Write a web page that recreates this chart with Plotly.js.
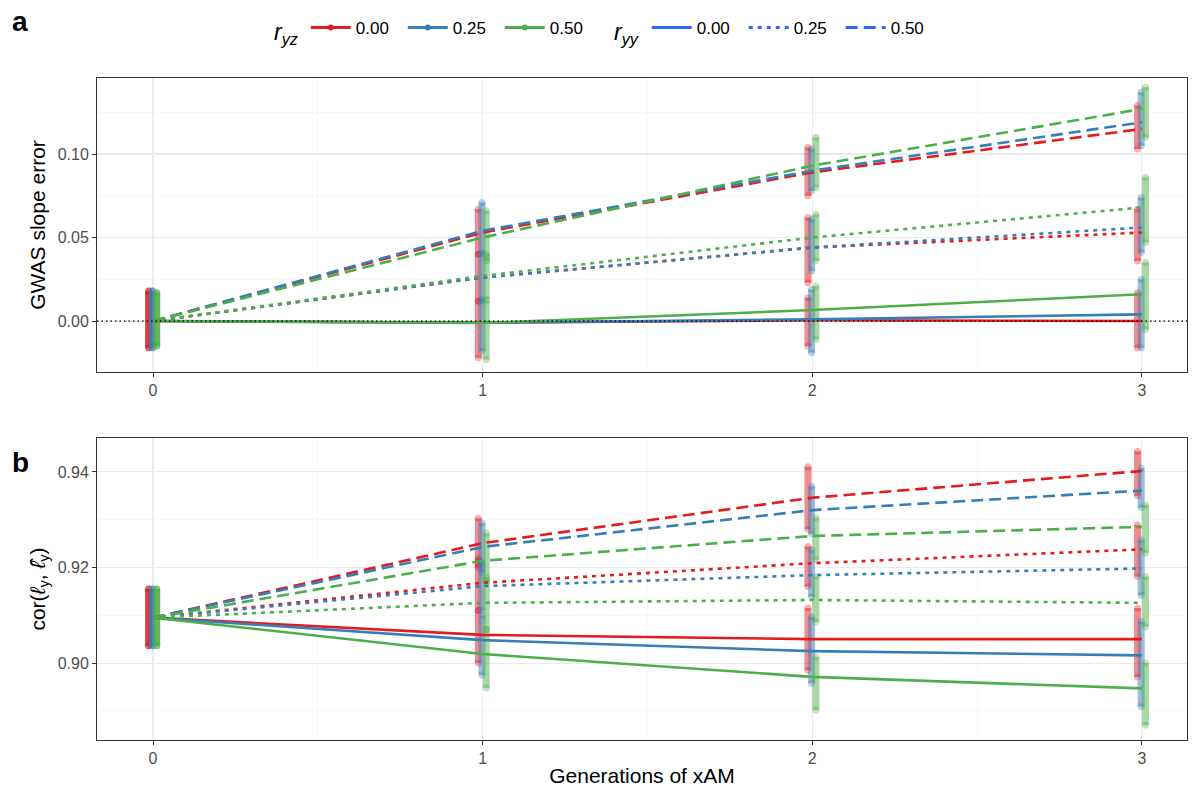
<!DOCTYPE html>
<html>
<head>
<meta charset="utf-8">
<script src="https://cdn.plot.ly/plotly-3.0.1.min.js"></script>
<style>html,body{margin:0;padding:0;background:#fff}#chart{width:1198px;height:787px}</style>
</head>
<body>
<div id="chart"></div>
<script>
// ---------------- DATA ----------------
const generations = [0, 1, 2, 3];
const ryzLevels = ['0.00', '0.25', '0.50'];
const ryyLevels = ['0.00', '0.25', '0.50'];

// Panel a: mean GWAS slope error per generation
const slope_ryz000_ryy000 = [0, -0.001, 0.0005, 0.000];
const slope_ryz025_ryy000 = [0, -0.001, 0.001, 0.004];
const slope_ryz050_ryy000 = [0, -0.0012, 0.0066, 0.016];
const slope_ryz000_ryy025 = [0, 0.026, 0.044, 0.053];
const slope_ryz025_ryy025 = [0, 0.026, 0.044, 0.056];
const slope_ryz050_ryy025 = [0, 0.027, 0.050, 0.068];
const slope_ryz000_ryy050 = [0, 0.053, 0.089, 0.115];
const slope_ryz025_ryy050 = [0, 0.054, 0.090, 0.119];
const slope_ryz050_ryy050 = [0, 0.050, 0.093, 0.127];

// Panel a: replicate spread [low, high] per generation
const slopeRange_ryz000_ryy000 = [[-0.016, 0.018], [-0.022, 0.012], [-0.015, 0.014], [-0.016, 0.017]];
const slopeRange_ryz025_ryy000 = [[-0.016, 0.018], [-0.018, 0.013], [-0.019, 0.019], [-0.016, 0.025]];
const slopeRange_ryz050_ryy000 = [[-0.015, 0.017], [-0.023, 0.012], [-0.011, 0.021], [-0.005, 0.035]];
const slopeRange_ryz000_ryy025 = [[-0.016, 0.018], [0.012, 0.040], [0.023, 0.062], [0.036, 0.067]];
const slopeRange_ryz025_ryy025 = [[-0.016, 0.018], [0.012, 0.041], [0.030, 0.061], [0.041, 0.074]];
const slopeRange_ryz050_ryy025 = [[-0.015, 0.017], [0.013, 0.040], [0.036, 0.064], [0.047, 0.086]];
const slopeRange_ryz000_ryy050 = [[-0.016, 0.018], [0.040, 0.067], [0.075, 0.104], [0.103, 0.129]];
const slopeRange_ryz025_ryy050 = [[-0.016, 0.018], [0.040, 0.071], [0.078, 0.103], [0.105, 0.137]];
const slopeRange_ryz050_ryy050 = [[-0.015, 0.017], [0.036, 0.066], [0.080, 0.110], [0.110, 0.140]];

// Panel b: mean correlation per generation
const cor_ryz000_ryy000 = [0.9095, 0.9059, 0.9050, 0.9050];
const cor_ryz025_ryy000 = [0.9095, 0.9048, 0.9025, 0.9016];
const cor_ryz050_ryy000 = [0.9095, 0.9019, 0.8971, 0.8947];
const cor_ryz000_ryy025 = [0.9095, 0.9168, 0.9209, 0.9238];
const cor_ryz025_ryy025 = [0.9095, 0.9161, 0.9184, 0.9198];
const cor_ryz050_ryy025 = [0.9095, 0.9126, 0.9132, 0.9126];
const cor_ryz000_ryy050 = [0.9095, 0.9251, 0.9346, 0.9402];
const cor_ryz025_ryy050 = [0.9095, 0.9243, 0.9320, 0.9361];
const cor_ryz050_ryy050 = [0.9095, 0.9214, 0.9266, 0.9285];

// Panel b: replicate spread [low, high] per generation
const corRange_ryz000_ryy000 = [[0.9036, 0.9155], [0.9000, 0.9110], [0.8985, 0.9115], [0.8971, 0.9115]];
const corRange_ryz025_ryy000 = [[0.9036, 0.9155], [0.8975, 0.9100], [0.8958, 0.9097], [0.8909, 0.9087]];
const corRange_ryz050_ryy000 = [[0.9036, 0.9155], [0.8948, 0.9070], [0.8902, 0.9013], [0.8870, 0.9000]];
const corRange_ryz000_ryy025 = [[0.9036, 0.9155], [0.9110, 0.9220], [0.9160, 0.9244], [0.9181, 0.9289]];
const corRange_ryz025_ryy025 = [[0.9036, 0.9155], [0.9110, 0.9210], [0.9139, 0.9237], [0.9142, 0.9258]];
const corRange_ryz050_ryy025 = [[0.9036, 0.9155], [0.9070, 0.9180], [0.9086, 0.9181], [0.9076, 0.9181]];
const corRange_ryz000_ryy050 = [[0.9036, 0.9155], [0.9200, 0.9303], [0.9280, 0.9411], [0.9350, 0.9443]];
const corRange_ryz025_ryy050 = [[0.9036, 0.9155], [0.9190, 0.9293], [0.9270, 0.9370], [0.9325, 0.9408]];
const corRange_ryz050_ryy050 = [[0.9036, 0.9155], [0.9170, 0.9272], [0.9216, 0.9304], [0.9230, 0.9331]];

// ---------------- STYLE ----------------
const ryzColors = ['#E41A1C', '#377EB8', '#4DAF4A'];
const ryzFill = ['rgba(228,26,28,0.5)', 'rgba(55,126,184,0.5)', 'rgba(77,175,74,0.5)'];
const ryzDot = ['rgba(228,26,28,0.35)', 'rgba(55,126,184,0.35)', 'rgba(77,175,74,0.35)'];
const ryyDash = ['solid', '4px,5px', '12px,6px'];
const dodge = [-0.013, -0.002, 0.011];

const slopeMeans = [
  [slope_ryz000_ryy000, slope_ryz000_ryy025, slope_ryz000_ryy050],
  [slope_ryz025_ryy000, slope_ryz025_ryy025, slope_ryz025_ryy050],
  [slope_ryz050_ryy000, slope_ryz050_ryy025, slope_ryz050_ryy050]
];
const slopeRanges = [
  [slopeRange_ryz000_ryy000, slopeRange_ryz000_ryy025, slopeRange_ryz000_ryy050],
  [slopeRange_ryz025_ryy000, slopeRange_ryz025_ryy025, slopeRange_ryz025_ryy050],
  [slopeRange_ryz050_ryy000, slopeRange_ryz050_ryy025, slopeRange_ryz050_ryy050]
];
const corMeans = [
  [cor_ryz000_ryy000, cor_ryz000_ryy025, cor_ryz000_ryy050],
  [cor_ryz025_ryy000, cor_ryz025_ryy025, cor_ryz025_ryy050],
  [cor_ryz050_ryy000, cor_ryz050_ryy025, cor_ryz050_ryy050]
];
const corRanges = [
  [corRange_ryz000_ryy000, corRange_ryz000_ryy025, corRange_ryz000_ryy050],
  [corRange_ryz025_ryy000, corRange_ryz025_ryy025, corRange_ryz025_ryy050],
  [corRange_ryz050_ryy000, corRange_ryz050_ryy025, corRange_ryz050_ryy050]
];

const traces = [];
function addPanel(means, ranges, xa, ya) {
  // replicate clouds
  for (let c = 0; c < 3; c++) {
    const xs = [], ys = [];
    for (let r = 0; r < 3; r++) {
      ranges[c][r].forEach((rg, gi) => {
        xs.push(generations[gi] + dodge[c], generations[gi] + dodge[c], null);
        ys.push(rg[0], rg[1], null);
      });
    }
    traces.push({
      x: xs, y: ys, xaxis: xa, yaxis: ya, mode: 'lines+markers', showlegend: false,
      hoverinfo: 'skip', connectgaps: false,
      line: {color: ryzFill[c], width: 7},
      marker: {color: ryzDot[c], size: 7}
    });
  }
  // mean lines
  for (let r = 0; r < 3; r++) {
    for (let c = 0; c < 3; c++) {
      traces.push({
        x: generations, y: means[c][r], xaxis: xa, yaxis: ya, mode: 'lines', showlegend: false,
        line: {color: ryzColors[c], width: 2.6, dash: ryyDash[r]}
      });
    }
  }
}
addPanel(slopeMeans, slopeRanges, 'x', 'y');
addPanel(corMeans, corRanges, 'x2', 'y2');

// legend entries
ryzLevels.forEach((lab, c) => traces.push({
  x: [null], y: [null], mode: 'lines+markers', name: lab, legend: 'legend',
  line: {color: ryzColors[c], width: 3}, marker: {color: ryzColors[c], size: 6}
}));
ryyLevels.forEach((lab, r) => traces.push({
  x: [null], y: [null], mode: 'lines', name: lab, legend: 'legend2',
  line: {color: '#3366FF', width: 3, dash: ryyDash[r]}
}));

const W = 1198, H = 787;
const font = 'Liberation Sans, Arial, sans-serif';
const tickFont = {family: font, size: 16, color: '#4D4D4D'};
const titleFont = {family: font, size: 21, color: '#000'};
const baseX = {
  domain: [97 / W, 1187 / W], range: [-0.17, 3.137], tickvals: generations, ticktext: ['0', '1', '2', '3'],
  showgrid: true, gridcolor: '#EBEBEB', gridwidth: 1.1, zeroline: false,
  minor: {tickvals: [0.5, 1.5, 2.5], showgrid: true, gridcolor: '#F4F4F4', gridwidth: 0.6, ticks: ''},
  showline: true, mirror: true, linecolor: '#333333', linewidth: 1,
  ticks: 'outside', ticklen: 4, tickcolor: '#333333', tickfont: tickFont
};
const baseY = {
  showgrid: true, gridcolor: '#EBEBEB', gridwidth: 1.1, zeroline: false,
  showline: true, mirror: true, linecolor: '#333333', linewidth: 1,
  ticks: 'outside', ticklen: 4, tickcolor: '#333333', tickfont: tickFont, tickformat: '.2f'
};

const layout = {
  width: W, height: H, margin: {l: 0, r: 0, t: 0, b: 0},
  paper_bgcolor: '#fff', plot_bgcolor: '#fff',
  font: {family: font, color: '#000'},
  xaxis: Object.assign({}, baseX, {anchor: 'y'}),
  yaxis: Object.assign({}, baseY, {
    anchor: 'x', domain: [1 - 372 / H, 1 - 78 / H], range: [-0.0305, 0.1455],
    tickvals: [0, 0.05, 0.10],
    minor: {tickvals: [0.025, 0.075, 0.125], showgrid: true, gridcolor: '#F4F4F4', gridwidth: 0.6, ticks: ''},
    title: {text: 'GWAS slope error', font: titleFont, standoff: 6}
  }),
  xaxis2: Object.assign({}, baseX, {
    anchor: 'y2',
    title: {text: 'Generations of xAM', font: titleFont, standoff: 4}
  }),
  yaxis2: Object.assign({}, baseY, {
    anchor: 'x2', domain: [1 - 740 / H, 1 - 438 / H], range: [0.8839, 0.9471],
    tickvals: [0.90, 0.92, 0.94],
    minor: {tickvals: [0.89, 0.91, 0.93], showgrid: true, gridcolor: '#F4F4F4', gridwidth: 0.6, ticks: ''},
    title: {text: 'cor(<i>ℓ</i><sub>y</sub>, <i>ℓ̂</i><sub>y</sub>)', font: titleFont, standoff: 6}
  }),
  legend: {
    orientation: 'h', x: 272 / W, xanchor: 'left', y: 1 - 30 / H, yanchor: 'middle',
    title: {text: '<i>r</i><sub><i>yz</i></sub>', side: 'left', font: {family: font, size: 23}},
    font: {family: font, size: 17, color: '#000'}, bgcolor: 'rgba(0,0,0,0)',
    itemwidth: 40, entrywidth: 42, entrywidthmode: 'pixels'
  },
  legend2: {
    orientation: 'h', x: 612 / W, xanchor: 'left', y: 1 - 30 / H, yanchor: 'middle',
    title: {text: '<i>r</i><sub><i>yy</i></sub>', side: 'left', font: {family: font, size: 23}},
    font: {family: font, size: 17, color: '#000'}, bgcolor: 'rgba(0,0,0,0)',
    itemwidth: 40, entrywidth: 42, entrywidthmode: 'pixels'
  },
  shapes: [{
    type: 'line', xref: 'x domain', x0: 0, x1: 1, yref: 'y', y0: 0, y1: 0,
    line: {color: '#000', width: 1.2, dash: '1.5px,3px'}
  }],
  annotations: [
    {text: '<b>a</b>', xref: 'paper', yref: 'paper', x: 20 / W, y: 1 - 22 / H, xanchor: 'center', yanchor: 'middle', showarrow: false, font: {family: font, size: 28, color: '#000'}},
    {text: '<b>b</b>', xref: 'paper', yref: 'paper', x: 20 / W, y: 1 - 462 / H, xanchor: 'center', yanchor: 'middle', showarrow: false, font: {family: font, size: 28, color: '#000'}}
  ]
};

Plotly.newPlot('chart', traces, layout, {staticPlot: true, displayModeBar: false});
</script>
</body>
</html>
